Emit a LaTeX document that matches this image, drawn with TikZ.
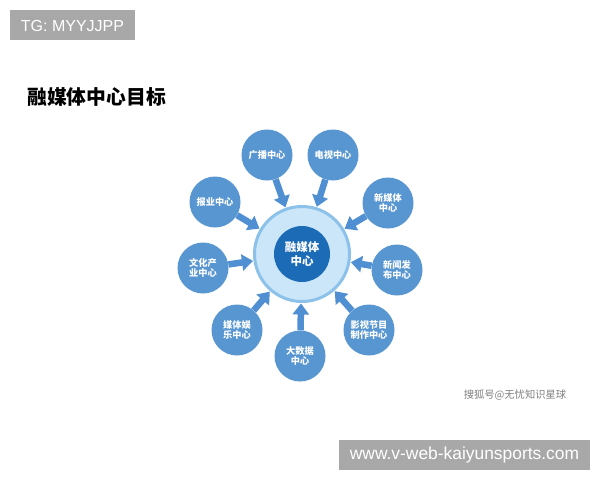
\documentclass[tikz,border=0pt]{standalone}
\usepackage{fontspec}
\setmainfont{Liberation Sans}
\newfontfamily\cjk{Noto Sans CJK SC}
\usetikzlibrary{arrows.meta}
\definecolor{satblue}{HTML}{5896D2}
\definecolor{arrblue}{HTML}{4F8FD2}
\definecolor{ringfill}{HTML}{CBE6F8}
\definecolor{ringedge}{HTML}{8CC2EA}
\definecolor{coreblue}{HTML}{1B6BB6}
\definecolor{wmgray}{HTML}{A8A8A8}
\tikzset{
  sat/.style={circle,fill=satblue,minimum size=51pt,inner sep=0pt,text=white,
    font=\cjk\bfseries\fontsize{9.2}{10.5}\selectfont,align=center},
  flowarrow/.style={draw=arrblue,line width=6.5pt,
    -{Triangle[width=16pt,length=11pt]},shorten >=0.5pt},
  wmbox/.style={fill=wmgray,text=white,inner sep=0pt,anchor=center}
}
\begin{document}
\begin{tikzpicture}[x=1pt,y=-1pt]
\useasboundingbox (0,0) rectangle (600,480);
\fill[white] (0,0) rectangle (600,480);
% watermark top
\fill[wmgray] (10,10) rectangle (135,40);
\node[text=white,font=\fontsize{16}{17}\selectfont,inner sep=0pt] (tg) at (72.5,25.5) {TG: MYYJJPP};
% title
\node[anchor=west,inner sep=0pt,font=\cjk\bfseries\fontsize{19.8}{22}\selectfont] (title) at (27,97) {融媒体中心目标};
% center
\node[circle,fill=ringfill,draw=ringedge,line width=3pt,minimum size=95pt,inner sep=0pt] (ring) at (302,254) {};
\node[circle,fill=coreblue,minimum size=56pt,inner sep=0pt,text=white,align=center,
  font=\cjk\bfseries\fontsize{11.5}{14}\selectfont] (core) at (302,254) {融媒体\\中心};
% satellites
\node[sat] (s1) at (267,155) {广播中心};
\node[sat] (s2) at (333,155) {电视中心};
\node[sat] (s3) at (388,203) {新媒体\\中心};
\node[sat] (s4) at (397,270) {新闻发\\布中心};
\node[sat] (s5) at (369,330) {影视节目\\制作中心};
\node[sat] (s6) at (300,356) {大数据\\中心};
\node[sat] (s7) at (237,330) {媒体娱\\乐中心};
\node[sat] (s8) at (203,268) {文化产\\业中心};
\node[sat] (s9) at (215,202) {报业中心};
% arrows
\foreach \s in {s1,s2,s3,s4,s5,s6,s7,s8,s9}
  \draw[flowarrow] (\s) -- (ring);
% sohu mark
\node[text=black!50,font=\cjk\fontsize{10.3}{12}\selectfont,inner sep=0pt] (sohu) at (515,395) {搜狐号@无忧知识星球};
% bottom box
\fill[wmgray] (339,440) rectangle (590,470);
\node[text=white,font=\fontsize{17.4}{18}\selectfont,inner sep=0pt] (url) at (464.5,455) {www.v-web-kaiyunsports.com};
\end{tikzpicture}
\end{document}
